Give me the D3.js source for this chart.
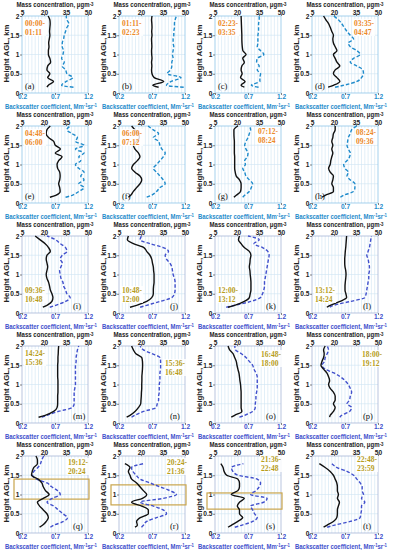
<!DOCTYPE html>
<html>
<head>
<meta charset="utf-8">
<script src="https://cdnjs.cloudflare.com/ajax/libs/d3/7.8.5/d3.min.js"></script>
<style>
  body { margin: 0; background: #fff; }
  svg { display: block; font-family: "Liberation Sans", Arial, sans-serif; }
</style>
</head>
<body>
<svg id="chart" width="394" height="550"></svg>
<script>
// ---- data ----
const heights = [0.15, 0.2, 0.3, 0.4, 0.5, 0.6, 0.7, 0.8, 0.9, 1.0, 1.1, 1.2, 1.3, 1.4, 1.5, 1.6, 1.7, 1.8, 1.9, 2.0];
const panelLetters = ["a","b","c","d","e","f","g","h","i","j","k","l","m","n","o","p","q","r","s","t"];
const timeStart = ["00:00-","01:11-","02:23-","03:35-","04:48-","06:00-","07:12-","08:24-","09:36-","10:48-",
                   "12:00-","13:12-","14:24-","15:36-","16:48-","18:00-","19:12-","20:24-","21:36-","22:48-"];
const timeEnd = ["01:11","02:23","03:35","04:47","06:00","07:12","08:24","09:36","10:48","12:00",
                 "13:12","14:24","15:36","16:48","18:00","19:12","20:24","21:36","22:48","23:59"];
const massTicks = [5, 20, 35, 50];
const bscTicks = [0.2, 0.7, 1.2];
const heightTicks = [0, 0.5, 1, 1.5, 2];

// mass concentration (ug/m3), one row per panel, at the heights above
const massProfiles = [
  [22, 23, 26.5, 22.5, 24, 22, 22.5, 24.5, 24, 23, 23, 23.4, 23.2, 23.6, 24, 23.8, 24, 24.2, 24, 22.8],       // a
  [32, 28, 35.5, 29, 27.5, 27.2, 27.4, 27.2, 27.5, 27.3, 27.2, 27.4, 27.3, 27.2, 27.5, 27.3, 27.5, 27.4, 27.2, 27.5], // b
  [25, 22.8, 25.5, 22.4, 23.5, 22.8, 23.3, 25, 23.9, 26.2, 24, 23.6, 23.4, 23.3, 23.3, 23.2, 23.1, 23, 22.9, 22.8], // c
  [16, 19.6, 24, 22, 19.6, 20.8, 24, 22, 20.8, 19.6, 22, 20.8, 19.6, 19.2, 19.6, 18.5, 17.5, 16.3, 14.5, 12.9],    // d
  [24, 28, 31, 30.7, 30, 30.7, 31, 30.7, 29.3, 28.9, 30, 32.3, 27.7, 31.2, 27.7, 26.6, 23.1, 21.5, 22, 24.3],     // e
  [11.4, 13, 14.8, 17, 19.3, 20.5, 19.3, 15.9, 13.6, 14.8, 17.5, 19.3, 18.2, 15.9, 14.8, 17, 18.9, 18.2, 15.9, 13.6], // f
  [17.9, 19.5, 22.4, 22.8, 22.8, 21.7, 19.5, 18.8, 18.4, 18.4, 18.4, 18.4, 18.2, 18.2, 18.2, 18.2, 18, 17.9, 17.9, 20.6], // g
  [11.8, 14, 19.6, 19.6, 18.5, 19.2, 19.6, 17.4, 16.3, 17.4, 17.8, 18.5, 19.2, 18.5, 19.2, 18.5, 19.2, 19.6, 20.8, 20.8], // h
  [19.2, 22, 25.4, 26.1, 25.4, 24.3, 23.8, 23.1, 22, 21.5, 22, 22.5, 22, 21.5, 22, 24.3, 23.1, 20.8, 17.4, 14],     // i
  [12.5, 17, 23.9, 27.3, 28.4, 28.4, 28.6, 28.9, 28.9, 28.9, 28.6, 28.4, 27.8, 27.3, 26.1, 23.9, 22, 14.8, 10.7, 11.4], // j
  [13.9, 18.4, 25, 28.4, 29, 29.5, 29.5, 29.5, 29.3, 29, 28.8, 28.4, 28.8, 29, 29.5, 28.4, 25, 22.8, 21, 21.7],     // k
  [15.1, 17.4, 24.1, 28.6, 28.1, 27.5, 27.5, 27.7, 28, 28.2, 28, 27.5, 27.3, 27.3, 27.5, 27.7, 28, 28.2, 28.4, 28.6], // l
  [16.3, 20.8, 26.6, 28.9, 29.3, 29.3, 29.3, 29.5, 29.5, 29.5, 29.5, 29.3, 29.3, 29.3, 29.3, 29.5, 29.5, 29.7, 29.8, 30], // m
  [10.2, 12.5, 15.9, 18.2, 19.8, 20, 20.2, 20.3, 20.5, 20.5, 20.6, 20.6, 20.8, 21, 21.1, 21, 20.5, 16.5, 14.8, 13.6], // n
  [16.1, 18.4, 23.3, 22.8, 22.8, 22.8, 22.8, 22.8, 22.6, 22.4, 22, 21.7, 21.3, 20.6, 20, 19.5, 18.4, 17.3, 15, 13.9], // o
  [17, 17.4, 19.6, 20.8, 19.6, 20.8, 20.8, 19.6, 17.4, 16.3, 17, 16.3, 15.1, 12.9, 11.1, 11.8, 12.9, 13.3, 12.9, 14], // p
  [17, 19, 21.5, 23, 22, 19.5, 17, 15.5, 19.5, 23.5, 21, 19.5, 18.5, 16, 11.5, 12, 13, 15.5, 15.5, 14.5],          // q
  [15.9, 17.5, 17, 19.5, 25, 25, 20.5, 13.6, 21, 23.9, 21.6, 19.3, 17, 13.6, 12.5, 11.4, 12.5, 9, null, null],      // r
  [13.9, 16.1, 20.6, 23.9, 21.7, 21.7, 20.2, 21.7, 25, 16.1, 20.6, 21.7, 21.7, 20.6, 13, 11.2, 10.5, 9, null, null], // s
  [12.9, 15.1, 19.6, 21.9, 22.3, 22.3, 23, 23.7, 22.3, 23, 22.3, 22.3, 21.9, 20.8, 19.6, 17.4, 14, 10, null, null]  // t
];

// backscatter coefficient (Mm-1 sr-1)
const bscProfiles = [
  [0.98, 0.80, 0.87, 0.97, 0.88, 0.86, 0.81, 0.84, 0.80, 0.82, 0.83, 0.81, 0.81, 0.83, 0.84, 0.86, 0.88, 0.91, 0.88, 0.87], // a
  [1.18, 0.92, 0.99, 1.14, 0.93, 0.98, 1.0, 1.0, 1.02, 1.01, 1.02, 1.03, 1.02, 1.02, 1.03, 1.03, 1.04, 1.04, 1.05, 1.07],  // b
  [0.86, 0.75, 0.88, 0.88, 0.89, 0.84, 0.87, 0.83, 0.84, 0.94, 0.89, 0.84, 0.85, 0.85, 0.85, 0.86, 0.86, 0.86, 0.87, 0.87], // c
  [0.55, 0.68, 0.88, 0.95, 0.98, 0.97, 0.88, 0.78, 0.83, 0.93, 0.88, 0.78, 0.75, 0.83, 0.78, 0.73, 0.69, 0.65, 0.6, 0.53],  // d
  [0.86, 0.96, 1.06, 1.14, 1.06, 1.14, 1.09, 1.14, 1.06, 1.01, 1.09, 1.06, 1.14, 1.01, 1.14, 1.01, 1.04, 0.96, 0.88, 0.93], // e
  [0.62, 0.69, 0.77, 0.82, 0.90, 0.87, 0.82, 0.77, 0.72, 0.77, 0.82, 0.87, 0.90, 0.85, 0.82, 0.80, 0.72, 0.80, 0.72, 0.64], // f
  [0.62, 0.65, 0.72, 0.75, 0.77, 0.72, 0.67, 0.65, 0.62, 0.66, 0.65, 0.69, 0.70, 0.67, 0.65, 0.67, 0.70, 0.72, 0.74, 0.72], // g
  [0.63, 0.68, 0.83, 0.85, 0.85, 0.78, 0.73, 0.75, 0.70, 0.68, 0.73, 0.77, 0.78, 0.75, 0.73, 0.74, 0.75, 0.78, 0.80, 0.88], // h
  [0.62, 0.71, 0.86, 0.93, 0.88, 0.86, 0.83, 0.82, 0.79, 0.78, 0.77, 0.79, 0.81, 0.78, 0.81, 0.88, 0.86, 0.78, 0.71, 0.58], // i
  [0.52, 0.62, 0.82, 1.0, 1.04, 1.05, 1.05, 1.05, 1.04, 1.02, 1.01, 1.0, 0.97, 0.92, 0.90, 0.95, 0.87, 0.67, 0.52, 0.54],   // j
  [0.37, 0.5, 0.74, 0.89, 0.92, 0.94, 0.95, 0.95, 0.96, 0.97, 0.98, 0.99, 1.0, 1.01, 1.02, 1.0, 0.92, 0.79, 0.87, 0.70],   // k
  [0.47, 0.53, 0.78, 1.0, 1.02, 1.03, 1.04, 1.05, 1.06, 1.06, 1.07, 1.07, 1.06, 1.05, 1.03, 1.05, 1.07, 1.08, 1.09, 1.1],  // l
  [0.5, 0.58, 0.75, 0.96, 0.99, 0.99, 0.99, 0.99, 1.0, 1.01, 1.01, 1.01, 1.01, 1.01, 1.01, 1.02, 1.02, 1.03, 1.04, 1.06],  // m
  [0.39, 0.44, 0.57, 0.76, 0.78, 0.8, 0.8, 0.81, 0.81, 0.81, 0.82, 0.82, 0.82, 0.83, 0.83, 0.83, 0.82, 0.7, 0.57, 0.52],   // n
  [0.57, 0.65, 0.77, 0.81, 0.81, 0.82, 0.82, 0.83, 0.84, 0.84, 0.84, 0.84, 0.82, 0.79, 0.77, 0.72, 0.67, 0.6, 0.51, 0.5],  // o
  [0.62, 0.65, 0.77, 0.80, 0.73, 0.77, 0.78, 0.8, 0.78, 0.75, 0.7, 0.63, 0.53, 0.4, 0.35, 0.39, 0.4, 0.43, 0.45, 0.43],    // p
  [0.63, 0.68, 0.83, 0.89, 0.82, 0.75, 0.68, 0.58, 0.66, 0.78, 0.74, 0.65, 0.58, 0.42, 0.36, 0.38, 0.44, 0.48, 0.5, 0.53],  // q
  [0.54, 0.57, 0.62, 0.77, 0.92, 0.87, 0.72, 0.52, 0.87, 1.07, 0.97, 0.82, 0.67, 0.52, 0.46, 0.41, 0.39, 0.57, null, null], // r
  [0.5, 0.6, 0.77, 0.84, 0.8, 0.77, 0.74, 0.94, 0.99, 0.74, 0.82, 0.87, 0.89, 0.84, 0.55, 0.47, 0.45, 0.63, null, null],   // s
  [0.43, 0.53, 0.78, 0.93, 0.94, 0.95, 0.95, 1.0, 0.95, 0.98, 0.96, 0.96, 0.93, 0.88, 0.83, 0.73, 0.58, 0.5, null, null]    // t
];

// highlighted layers (km) in panels q, r, s
const boxPanels = ["q", "r", "s"];
const boxLow = [0.88, 0.73, 0.62];
const boxHigh = [1.40, 1.25, 1.04];

// ---- layout ----
const colLeft = [22, 119, 215, 312];
const rowTop = [16, 126, 236, 346, 456];
const plotW = 66, plotH = 77;
// time label placement: [dx from plot left, baseline of first line from plot top]
const timePos = {
  a:[3,10], b:[3,10], c:[3,10], d:[42,10], e:[3,10], f:[3,10], g:[43,8], h:[44,9],
  i:[3,57], j:[3,57], k:[3,57], l:[3,57], m:[3,10], n:[46,20], o:[46,11], p:[50,11],
  q:[46,9], r:[48,9], s:[46,6], t:[45,6]
};

const svg = d3.select("#chart");

panelLetters.forEach(function(letter, i) {
  const row = Math.floor(i / 4), col = i % 4;
  const left = colLeft[col], top = rowTop[row];
  const blue = row < 2 ? "#1f8bcb" : "#4150cc";
  const timeColor = row < 2 ? "#ec8a2a" : "#b79d1c";
  const frameColor = row < 2 ? "#8fc6e8" : "#a9b7d8";

  const g = svg.append("g").attr("transform", `translate(${left},${top})`);

  const xMass = d3.scaleLinear().domain([5, 50]).range([0, plotW]);
  const xBsc = d3.scaleLinear().domain([0.2, 1.2]).range([0, plotW]);
  const y = d3.scaleLinear().domain([0, 2]).range([plotH, 0]);

  // grid
  g.append("g").selectAll("line.vg")
    .data(d3.range(0.25, 1.2, 0.05))
    .enter().append("line")
    .attr("x1", d => xBsc(d)).attr("x2", d => xBsc(d))
    .attr("y1", 0).attr("y2", plotH)
    .attr("stroke", "#cfe4f3").attr("stroke-width", 0.6);
  g.append("g").selectAll("line.hg")
    .data([0.5, 1, 1.5])
    .enter().append("line")
    .attr("x1", 0).attr("x2", plotW)
    .attr("y1", d => y(d)).attr("y2", d => y(d))
    .attr("stroke", "#cfe4f3").attr("stroke-width", 0.6);

  g.append("rect")
    .attr("width", plotW).attr("height", plotH)
    .attr("fill", "none").attr("stroke", frameColor).attr("stroke-width", 0.8);

  // axes
  const topAxis = g.append("g").call(d3.axisTop(xMass).tickValues(massTicks).tickSize(2).tickFormat(d3.format("d")));
  const botAxis = g.append("g").attr("transform", `translate(0,${plotH})`)
    .call(d3.axisBottom(xBsc).tickValues(bscTicks).tickSize(2).tickFormat(d3.format(".1f")));
  const leftAxis = g.append("g").call(d3.axisLeft(y).tickValues(heightTicks).tickSize(2).tickFormat(d3.format("")));
  [topAxis, botAxis, leftAxis].forEach(a => {
    a.select(".domain").remove();
    a.selectAll("line").attr("stroke", "#333").attr("stroke-width", 0.6);
    a.selectAll("text").attr("font-size", 6.6).attr("font-weight", "bold").attr("font-family", "Liberation Sans, Arial, sans-serif");
  });
  topAxis.selectAll("text").attr("fill", "#222").attr("y", -1).attr("dy", 0);
  botAxis.selectAll("text").attr("fill", blue).attr("y", 5.5).attr("dy", 0);
  leftAxis.selectAll("text").attr("fill", "#222").attr("x", -2.5);

  // axis titles
  g.append("text")
    .attr("x", plotW / 2).attr("y", -9)
    .attr("text-anchor", "middle").attr("font-size", 6.3).attr("font-weight", "bold").attr("fill", "#222")
    .attr("textLength", 77).attr("lengthAdjust", "spacingAndGlyphs")
    .html('Mass concentration, μgm<tspan dy="-1.4" font-size="4.5">-3</tspan>');
  g.append("text")
    .attr("x", plotW / 2 - 4).attr("y", plotH + 15.6)
    .attr("text-anchor", "middle").attr("font-size", 6.3).attr("font-weight", "bold").attr("fill", blue)
    .attr("textLength", 92).attr("lengthAdjust", "spacingAndGlyphs")
    .html('Backscatter coefficient, Mm<tspan dy="-1.6" font-size="4.5">-1</tspan><tspan dy="1.6">sr</tspan><tspan dy="-1.6" font-size="4.5">-1</tspan>');
  g.append("text")
    .attr("transform", `translate(-13,${plotH / 2 - 1}) rotate(-90)`)
    .attr("text-anchor", "middle").attr("font-size", 6.5).attr("font-weight", "bold").attr("fill", "#222")
    .attr("textLength", 58).attr("lengthAdjust", "spacingAndGlyphs")
    .text("Height AGL, km");

  // highlighted layer
  const bi = boxPanels.indexOf(letter);
  if (bi >= 0) {
    g.append("rect")
      .attr("x", -8).attr("width", plotW + 9)
      .attr("y", y(boxHigh[bi])).attr("height", y(boxLow[bi]) - y(boxHigh[bi]))
      .attr("fill", "none").attr("stroke", "#c9a54c").attr("stroke-width", 1.2);
  }

  // profiles
  const massPts = heights.map((h, k) => ({ h: h, v: massProfiles[i][k] }));
  const bscPts = heights.map((h, k) => ({ h: h, v: bscProfiles[i][k] }));
  const massLine = d3.line().defined(d => d.v !== null)
    .x(d => xMass(d.v)).y(d => y(d.h)).curve(d3.curveMonotoneY);
  const bscLine = d3.line().defined(d => d.v !== null)
    .x(d => xBsc(d.v)).y(d => y(d.h)).curve(d3.curveMonotoneY);

  g.append("path").datum(bscPts).attr("d", bscLine)
    .attr("fill", "none").attr("stroke", blue).attr("stroke-width", 1.4).attr("stroke-dasharray", "3.5,2");
  g.append("path").datum(massPts).attr("d", massLine)
    .attr("fill", "none").attr("stroke", "#111").attr("stroke-width", 1.4);

  // time label
  const tp = timePos[letter];
  const tg = g.append("g").attr("font-family", "Liberation Serif, Times New Roman, serif")
    .attr("font-weight", "bold").attr("font-size", 7.5).attr("fill", timeColor);
  tg.append("rect").attr("x", tp[0] - 1).attr("y", tp[1] - 7).attr("width", 22).attr("height", 17)
    .attr("fill", "#fff").attr("opacity", 0.85);
  tg.append("text").attr("x", tp[0]).attr("y", tp[1]).text(timeStart[i]);
  tg.append("text").attr("x", tp[0]).attr("y", tp[1] + 9).text(timeEnd[i]);

  // panel letter
  const lx = row < 2 ? 3 : plotW - 15;
  g.append("text").attr("x", lx).attr("y", plotH - 4)
    .attr("font-family", "Liberation Serif, Times New Roman, serif")
    .attr("font-size", 8.5).attr("fill", "#111")
    .text(`(${letter})`);
});
</script>
</body>
</html>
